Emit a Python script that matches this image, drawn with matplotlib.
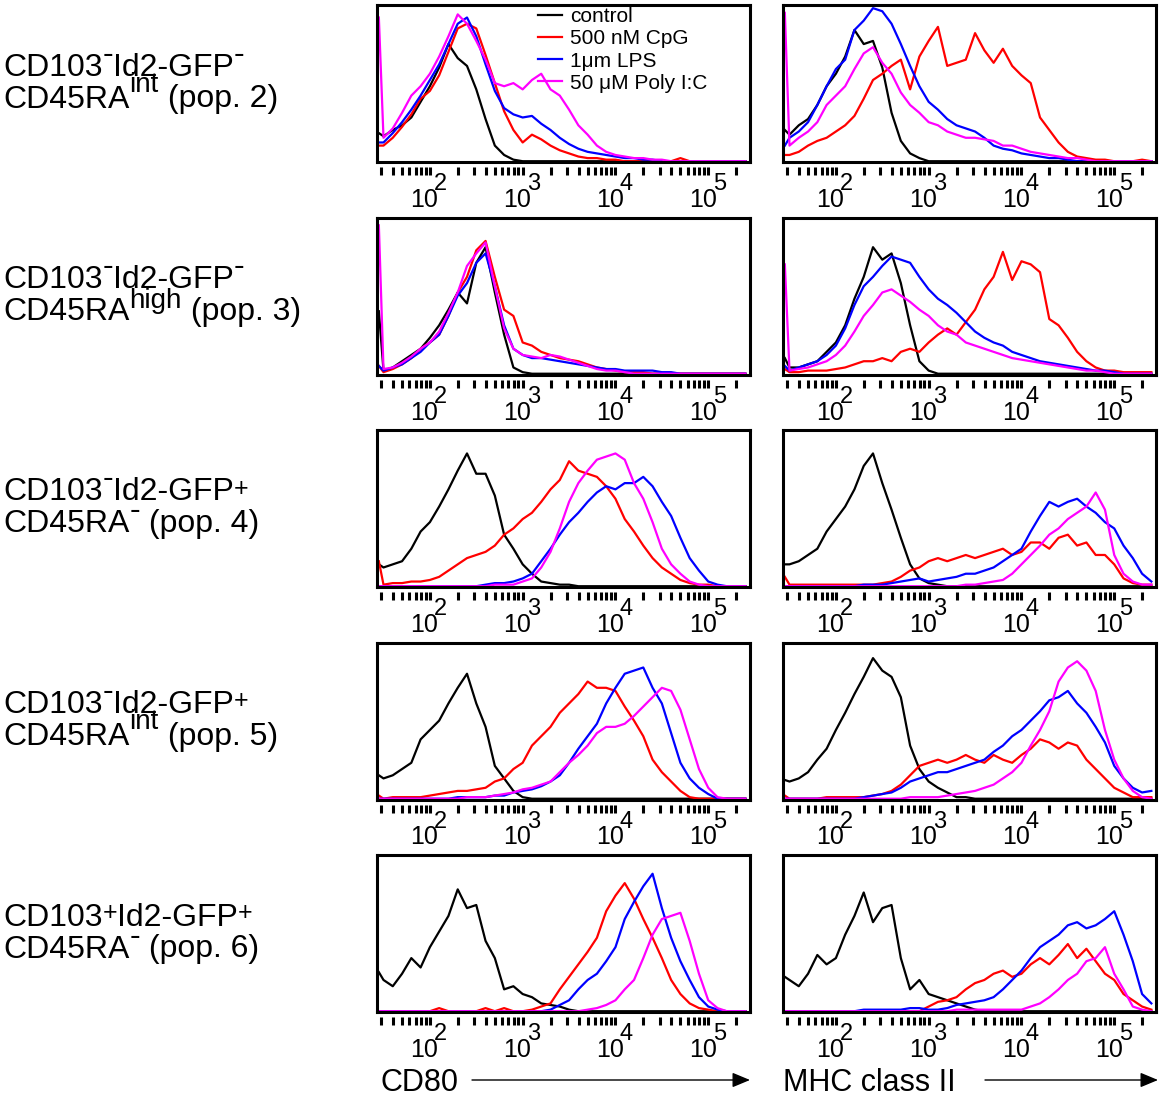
import numpy as np
import matplotlib
matplotlib.use('Agg')
import matplotlib.pyplot as plt
from matplotlib.patches import FancyArrowPatch
from matplotlib.ticker import FixedLocator

plt.rcParams['font.family'] = ['Liberation Sans', 'DejaVu Sans']

# histogram channels (log10 of intensity); first one is the pile-up bin at the left edge
log_bins = [1.45,
            1.5, 1.6, 1.7, 1.8, 1.9,
            2.0, 2.1, 2.2, 2.3, 2.4, 2.5, 2.6, 2.7, 2.8, 2.9,
            3.0, 3.1, 3.2, 3.3, 3.4, 3.5, 3.6, 3.7, 3.8, 3.9,
            4.0, 4.1, 4.2, 4.3, 4.4, 4.5, 4.6, 4.7, 4.8, 4.9,
            5.0, 5.1, 5.2, 5.3, 5.4]

treatments = ['control', '500 nM CpG', '1\u03bcm LPS', '50 \u03bcM Poly I:C']
colors = ['black', '#ff0000', '#0000ff', '#ff00ff']

# (text, superscript?) pieces of each row label, two lines per row
row_labels = [
    ([('CD103', 0), ('-', 1), ('Id2-GFP', 0), ('-', 1)], [('CD45RA', 0), ('int', 1), (' (pop. 2)', 0)]),
    ([('CD103', 0), ('-', 1), ('Id2-GFP', 0), ('-', 1)], [('CD45RA', 0), ('high', 1), (' (pop. 3)', 0)]),
    ([('CD103', 0), ('-', 1), ('Id2-GFP', 0), ('+', 1)], [('CD45RA', 0), ('-', 1), (' (pop. 4)', 0)]),
    ([('CD103', 0), ('-', 1), ('Id2-GFP', 0), ('+', 1)], [('CD45RA', 0), ('int', 1), (' (pop. 5)', 0)]),
    ([('CD103', 0), ('+', 1), ('Id2-GFP', 0), ('+', 1)], [('CD45RA', 0), ('-', 1), (' (pop. 6)', 0)]),
]

# % of panel height
# pop. 2, CD80
cd80_p2_control = [18, 16, 20, 23, 28, 38, 48, 60, 75, 66, 61, 46, 27, 10, 4, 1,
                   0, 0, 0, 0, 0, 0, 0, 0, 0, 0, 0, 0, 0, 0, 0, 0, 0, 0, 0, 0, 0, 0, 0, 0, 0]
cd80_p2_cpg = [10, 10, 15, 22, 30, 40, 45, 55, 70, 85, 88, 85, 68, 50, 32, 20,
               12, 17, 14, 10, 7, 5, 3, 2, 2, 1, 1, 0, 0, 0, 0, 0, 0, 2, 0, 0, 0, 0, 0, 0, 0]
cd80_p2_lps = [12, 12, 18, 25, 33, 42, 52, 62, 75, 88, 92, 80, 62, 45, 34, 30,
               28, 29, 24, 20, 15, 11, 8, 6, 5, 4, 3, 2, 2, 1, 1, 0, 0, 0, 0, 0, 0, 0, 0, 0, 0]
cd80_p2_polyic = [92, 15, 21, 31, 42, 48, 56, 67, 80, 94, 88, 77, 65, 50, 48, 50,
                  46, 52, 56, 46, 42, 33, 23, 17, 10, 6, 4, 3, 2, 2, 1, 1, 0, 0, 0, 0, 0, 0, 0, 0, 0]
# pop. 2, MHC class II
mhc_p2_control = [20, 17, 23, 27, 36, 48, 56, 67, 84, 75, 77, 60, 31, 13, 5, 2,
                  0, 0, 0, 0, 0, 0, 0, 0, 0, 0, 0, 0, 0, 0, 0, 0, 0, 0, 0, 0, 0, 0, 0, 0, 0]
mhc_p2_cpg = [4, 4, 6, 10, 13, 15, 19, 23, 29, 40, 52, 56, 61, 65, 46, 67,
              77, 86, 61, 63, 65, 82, 71, 63, 72, 61, 55, 50, 28, 20, 12, 6, 3, 2, 1, 1, 0, 0, 0, 1, 0]
mhc_p2_lps = [10, 15, 19, 25, 36, 48, 59, 65, 84, 90, 98, 96, 88, 75, 61, 48,
              38, 33, 27, 23, 21, 19, 15, 10, 8, 7, 5, 4, 3, 2, 2, 1, 0, 0, 0, 0, 0, 0, 0, 0, 0]
mhc_p2_polyic = [95, 10, 15, 19, 25, 36, 42, 48, 59, 69, 73, 63, 56, 44, 36, 31,
                 25, 23, 19, 17, 15, 15, 14, 13, 10, 10, 8, 6, 5, 4, 3, 2, 2, 1, 0, 0, 0, 0, 0, 0, 0]
# pop. 3, CD80
cd80_p3_control = [40, 2, 4, 8, 12, 16, 23, 31, 41, 52, 45, 71, 81, 52, 25, 4,
                   1, 0, 0, 0, 0, 0, 0, 0, 0, 0, 0, 0, 0, 0, 0, 0, 0, 0, 0, 0, 0, 0, 0, 0, 0]
cd80_p3_cpg = [5, 1, 3, 6, 10, 16, 20, 25, 37, 52, 62, 79, 85, 62, 41, 37,
               20, 18, 14, 12, 10, 9, 8, 6, 4, 3, 2, 1, 1, 1, 0, 0, 0, 0, 0, 0, 0, 0, 0, 0, 0]
cd80_p3_lps = [5, 2, 4, 6, 10, 14, 20, 25, 37, 50, 58, 71, 77, 56, 31, 16,
               12, 10, 10, 9, 8, 7, 6, 5, 4, 3, 3, 2, 2, 2, 2, 1, 1, 0, 0, 0, 0, 0, 0, 0, 0]
cd80_p3_polyic = [95, 3, 4, 7, 11, 16, 20, 27, 39, 52, 69, 77, 84, 56, 29, 16,
                  12, 11, 10, 12, 11, 9, 7, 5, 3, 2, 2, 1, 0, 0, 0, 0, 0, 0, 0, 0, 0, 0, 0, 0, 0]
# pop. 3, MHC class II
mhc_p3_control = [10, 4, 4, 6, 8, 14, 20, 31, 48, 62, 81, 73, 77, 58, 31, 8,
                  2, 0, 0, 0, 0, 0, 0, 0, 0, 0, 0, 0, 0, 0, 0, 0, 0, 0, 0, 0, 0, 0, 0, 0, 0]
mhc_p3_cpg = [3, 1, 1, 2, 2, 2, 3, 4, 6, 8, 8, 10, 8, 14, 16, 14,
              20, 25, 29, 25, 33, 41, 54, 62, 78, 60, 72, 70, 65, 35, 31, 23, 14, 8, 4, 2, 2, 1, 1, 1, 1]
mhc_p3_lps = [5, 2, 4, 6, 8, 12, 18, 29, 44, 56, 62, 69, 75, 73, 71, 62,
              54, 48, 44, 39, 33, 27, 23, 20, 18, 14, 12, 10, 8, 7, 6, 5, 4, 3, 2, 2, 1, 0, 0, 0, 0]
mhc_p3_polyic = [70, 2, 3, 4, 6, 8, 12, 18, 27, 37, 44, 52, 54, 50, 46, 41,
                 37, 31, 27, 25, 20, 18, 16, 14, 12, 10, 9, 8, 7, 6, 5, 4, 3, 2, 2, 1, 0, 0, 0, 0, 0]
# pop. 4, CD80
cd80_p4_control = [14, 12, 14, 16, 24, 35, 41, 51, 62, 74, 85, 72, 72, 58, 33, 24,
                   14, 8, 3, 2, 1, 1, 0, 0, 0, 0, 0, 0, 0, 0, 0, 0, 0, 0, 0, 0, 0, 0, 0, 0, 0]
cd80_p4_cpg = [16, 1, 2, 2, 3, 3, 4, 6, 10, 14, 18, 20, 22, 26, 33, 37,
               43, 47, 54, 62, 68, 80, 74, 72, 70, 64, 56, 43, 35, 26, 18, 12, 8, 4, 2, 1, 1, 0, 0, 0, 0]
cd80_p4_lps = [0, 0, 0, 0, 0, 0, 0, 0, 0, 0, 0, 0, 1, 2, 2, 3,
               5, 8, 16, 24, 33, 41, 47, 54, 60, 64, 62, 66, 66, 70, 64, 54, 45, 31, 18, 10, 3, 1, 0, 0, 0]
cd80_p4_polyic = [0, 0, 0, 0, 0, 0, 0, 0, 0, 0, 0, 0, 0, 1, 1, 1,
                  3, 5, 12, 22, 37, 54, 66, 74, 81, 83, 85, 81, 66, 56, 41, 24, 14, 8, 3, 1, 0, 0, 0, 0, 0]
# pop. 4, MHC class II
mhc_p4_control = [14, 14, 16, 20, 24, 35, 43, 51, 62, 77, 85, 66, 49, 31, 14, 5,
                  2, 1, 0, 0, 0, 0, 0, 0, 0, 0, 0, 0, 0, 0, 0, 0, 0, 0, 0, 0, 0, 0, 0, 0, 0]
mhc_p4_cpg = [6, 1, 1, 1, 1, 1, 1, 1, 1, 1, 1, 2, 3, 6, 10, 12,
              16, 18, 16, 18, 20, 18, 20, 22, 24, 20, 22, 28, 28, 24, 31, 33, 26, 28, 20, 20, 14, 5, 2, 1, 1]
mhc_p4_lps = [0, 0, 0, 0, 0, 0, 0, 0, 0, 1, 1, 1, 2, 3, 4, 5,
              3, 4, 5, 6, 8, 8, 10, 12, 16, 20, 24, 35, 45, 54, 51, 54, 56, 51, 47, 41, 37, 26, 18, 8, 3]
mhc_p4_polyic = [0, 0, 0, 0, 0, 0, 0, 0, 0, 0, 0, 0, 0, 0, 0, 0,
                 0, 0, 0, 0, 1, 1, 2, 3, 4, 8, 14, 20, 26, 33, 37, 43, 47, 51, 60, 49, 20, 8, 3, 1, 1]
# pop. 5, CD80
cd80_p5_control = [15, 13, 15, 19, 23, 38, 44, 50, 61, 71, 80, 61, 46, 21, 13, 5,
                   1, 0, 0, 0, 0, 0, 0, 0, 0, 0, 0, 0, 0, 0, 0, 0, 0, 0, 0, 0, 0, 0, 0, 0, 0]
cd80_p5_cpg = [2, 0, 1, 1, 1, 1, 2, 3, 4, 5, 5, 6, 7, 11, 13, 19,
               23, 34, 40, 46, 55, 61, 67, 75, 71, 71, 69, 59, 50, 40, 25, 17, 11, 5, 1, 0, 0, 0, 0, 0, 0]
cd80_p5_lps = [0, 0, 0, 0, 0, 0, 0, 0, 0, 1, 1, 1, 1, 2, 2, 4,
               5, 6, 8, 11, 15, 23, 32, 40, 48, 61, 71, 80, 82, 84, 71, 61, 42, 23, 13, 7, 3, 0, 0, 0, 0]
cd80_p5_polyic = [0, 0, 0, 0, 0, 0, 0, 0, 0, 0, 1, 1, 1, 2, 3, 4,
                  6, 7, 9, 11, 17, 23, 28, 34, 42, 46, 46, 48, 53, 59, 65, 71, 69, 57, 38, 19, 7, 1, 0, 0, 0]
# pop. 5, MHC class II
mhc_p5_control = [12, 11, 13, 17, 25, 32, 44, 55, 67, 78, 90, 82, 78, 65, 34, 19,
                  11, 7, 4, 1, 1, 0, 0, 0, 0, 0, 0, 0, 0, 0, 0, 0, 0, 0, 0, 0, 0, 0, 0, 0, 0]
mhc_p5_cpg = [2, 0, 0, 0, 0, 1, 1, 1, 1, 1, 2, 3, 5, 9, 15, 21,
              23, 25, 23, 25, 28, 25, 23, 28, 25, 23, 28, 32, 38, 36, 32, 36, 34, 25, 19, 13, 7, 4, 1, 1, 1]
mhc_p5_lps = [0, 0, 0, 0, 0, 0, 0, 0, 0, 1, 2, 3, 4, 7, 11, 13,
              15, 17, 17, 19, 21, 23, 25, 30, 34, 40, 44, 50, 56, 63, 65, 69, 61, 55, 46, 36, 21, 13, 7, 4, 5]
mhc_p5_polyic = [0, 0, 0, 0, 0, 0, 0, 0, 0, 0, 0, 0, 0, 0, 1, 1,
                 1, 1, 2, 3, 4, 5, 7, 9, 13, 17, 23, 34, 44, 56, 75, 84, 88, 82, 69, 44, 25, 13, 5, 1, 0]
# pop. 6, CD80
cd80_p6_control = [25, 20, 16, 24, 34, 28, 41, 51, 61, 78, 66, 68, 45, 34, 14, 16,
                   11, 9, 5, 4, 3, 1, 0, 0, 0, 0, 0, 0, 0, 0, 0, 0, 0, 0, 0, 0, 0, 0, 0, 0, 0]
cd80_p6_cpg = [0, 0, 0, 0, 0, 0, 0, 2, 0, 0, 0, 0, 2, 0, 2, 0,
               0, 1, 3, 5, 14, 22, 30, 38, 47, 64, 74, 82, 72, 59, 47, 34, 20, 11, 5, 2, 1, 0, 0, 0, 0]
cd80_p6_lps = [0, 0, 0, 0, 0, 0, 0, 0, 0, 0, 0, 0, 0, 0, 0, 0,
               0, 0, 0, 1, 4, 7, 14, 20, 24, 32, 41, 59, 70, 80, 88, 66, 47, 32, 20, 9, 3, 1, 0, 0, 0]
cd80_p6_polyic = [0, 0, 0, 0, 0, 0, 0, 0, 0, 0, 0, 0, 0, 0, 0, 0,
                  0, 0, 0, 0, 0, 0, 0, 1, 2, 4, 7, 14, 20, 34, 49, 59, 61, 63, 45, 24, 7, 2, 0, 0, 0]
# pop. 6, MHC class II
mhc_p6_control = [22, 20, 16, 24, 36, 30, 34, 49, 61, 76, 57, 66, 68, 34, 14, 20,
                  11, 9, 7, 5, 3, 1, 0, 0, 0, 0, 0, 0, 0, 0, 0, 0, 0, 0, 0, 0, 0, 0, 0, 0, 0]
mhc_p6_cpg = [0, 0, 0, 0, 0, 0, 0, 0, 0, 0, 0, 0, 0, 0, 0, 0,
              3, 6, 7, 9, 14, 18, 20, 24, 26, 22, 24, 30, 34, 30, 36, 43, 34, 40, 32, 24, 20, 11, 7, 3, 1]
mhc_p6_lps = [0, 0, 0, 0, 0, 0, 0, 0, 0, 1, 1, 1, 1, 1, 2, 2,
              1, 1, 2, 4, 5, 6, 7, 9, 14, 20, 26, 34, 41, 45, 49, 55, 57, 53, 55, 59, 64, 49, 32, 11, 5]
mhc_p6_polyic = [0, 0, 0, 0, 0, 0, 0, 0, 0, 0, 0, 0, 0, 0, 0, 0,
                 0, 0, 0, 1, 1, 1, 1, 1, 1, 1, 1, 3, 5, 9, 14, 20, 24, 32, 34, 41, 24, 14, 3, 1, 0]

panels = [
    [(cd80_p2_control, cd80_p2_cpg, cd80_p2_lps, cd80_p2_polyic),
     (mhc_p2_control, mhc_p2_cpg, mhc_p2_lps, mhc_p2_polyic)],
    [(cd80_p3_control, cd80_p3_cpg, cd80_p3_lps, cd80_p3_polyic),
     (mhc_p3_control, mhc_p3_cpg, mhc_p3_lps, mhc_p3_polyic)],
    [(cd80_p4_control, cd80_p4_cpg, cd80_p4_lps, cd80_p4_polyic),
     (mhc_p4_control, mhc_p4_cpg, mhc_p4_lps, mhc_p4_polyic)],
    [(cd80_p5_control, cd80_p5_cpg, cd80_p5_lps, cd80_p5_polyic),
     (mhc_p5_control, mhc_p5_cpg, mhc_p5_lps, mhc_p5_polyic)],
    [(cd80_p6_control, cd80_p6_cpg, cd80_p6_lps, cd80_p6_polyic),
     (mhc_p6_control, mhc_p6_cpg, mhc_p6_lps, mhc_p6_polyic)],
]

W, H = 1160, 1097
fig = plt.figure(figsize=(W / 100, H / 100), dpi=100)
renderer = fig.canvas.get_renderer()
x = 10 ** np.array(log_bins)

major = [1e2, 1e3, 1e4, 1e5]
minor = [k * 10.0 ** n for n in (1, 2, 3, 4, 5) for k in range(2, 10)]
minor = [m for m in minor if 10 ** 1.43 <= m <= 10 ** 5.45]


def add_px_axes(left, top, w, h):
    return fig.add_axes([left / W, 1 - (top + h) / H, w / W, h / H])


def label_line(x_px, base_px, pieces):
    # superscripts: '-' is a short raised dash, '+' slightly raised, words smaller and raised
    for txt, sup in pieces:
        if not sup:
            size, lift = 23, 0
        elif txt == '-':
            size, lift = 23, 13
        elif txt == '+':
            size, lift = 18, 5
        elif txt == 'high':
            size, lift = 20, 12
        else:
            size, lift = 20, 16
        t = fig.text(x_px / W, 1 - (base_px - lift) / H, txt, fontsize=size, va='baseline')
        x_px += t.get_window_extent(renderer).width


for r, row in enumerate(panels):
    top = 5 + 212.5 * r
    for c, series in enumerate(row):
        ax = add_px_axes(377 if c == 0 else 783, top, 373, 157)
        for vals, color, name in zip(series, colors, treatments):
            ax.plot(x, vals, color=color, lw=1.6, label=name)
        ax.set_xscale('log')
        ax.set_xlim(10 ** 1.43, 10 ** 5.45)
        ax.set_ylim(-0.5, 100)
        ax.set_yticks([])
        ax.xaxis.set_major_locator(FixedLocator(major))
        ax.xaxis.set_minor_locator(FixedLocator(minor))
        # ticks sit a little below the box
        ax.spines['bottom'].set_position(('outward', 3.6))
        ax.spines['bottom'].set_visible(False)
        ax.tick_params(axis='x', which='both', direction='out', length=5.8,
                       width=2.2, labelbottom=False)
        ax.plot([0, 1], [0, 0], transform=ax.transAxes, color='black', lw=2.2,
                clip_on=False, solid_capstyle='projecting')
        for sp in ('top', 'left', 'right'):
            ax.spines[sp].set_linewidth(2.2)
        for n in (2, 3, 4, 5):
            ax.annotate('10', xy=(10.0 ** n, 0), xycoords=('data', 'axes fraction'),
                        xytext=(-5.5, -45), textcoords='offset pixels',
                        ha='center', va='baseline', fontsize=18)
            ax.annotate(str(n), xy=(10.0 ** n, 0), xycoords=('data', 'axes fraction'),
                        xytext=(11, -28), textcoords='offset pixels',
                        ha='center', va='baseline', fontsize=17)
        if r == 0 and c == 0:
            ax.legend(loc='upper left', bbox_to_anchor=(0.4316, 0.985), frameon=False,
                      fontsize=15, borderpad=0, borderaxespad=0, handlelength=1.15,
                      handletextpad=0.4, labelspacing=0.15)

    center = top + 78.5
    label_line(3, center - 8, row_labels[r][0])
    label_line(3, center + 24, row_labels[r][1])

# axis names with arrows
fig.text(380 / W, 1 - 1091 / H, 'CD80', fontsize=22, va='baseline')
fig.text(783 / W, 1 - 1091 / H, 'MHC class II', fontsize=22, va='baseline')
for x0, x1 in ((472, 750), (985, 1158)):
    fig.add_artist(FancyArrowPatch((x0 / W, 1 - 1080 / H), (x1 / W, 1 - 1080 / H),
                                   transform=fig.transFigure, color='black', lw=1,
                                   arrowstyle='-|>,head_length=0.6,head_width=0.25',
                                   mutation_scale=18, shrinkA=0, shrinkB=0))

fig.savefig('out.png', dpi=100)
